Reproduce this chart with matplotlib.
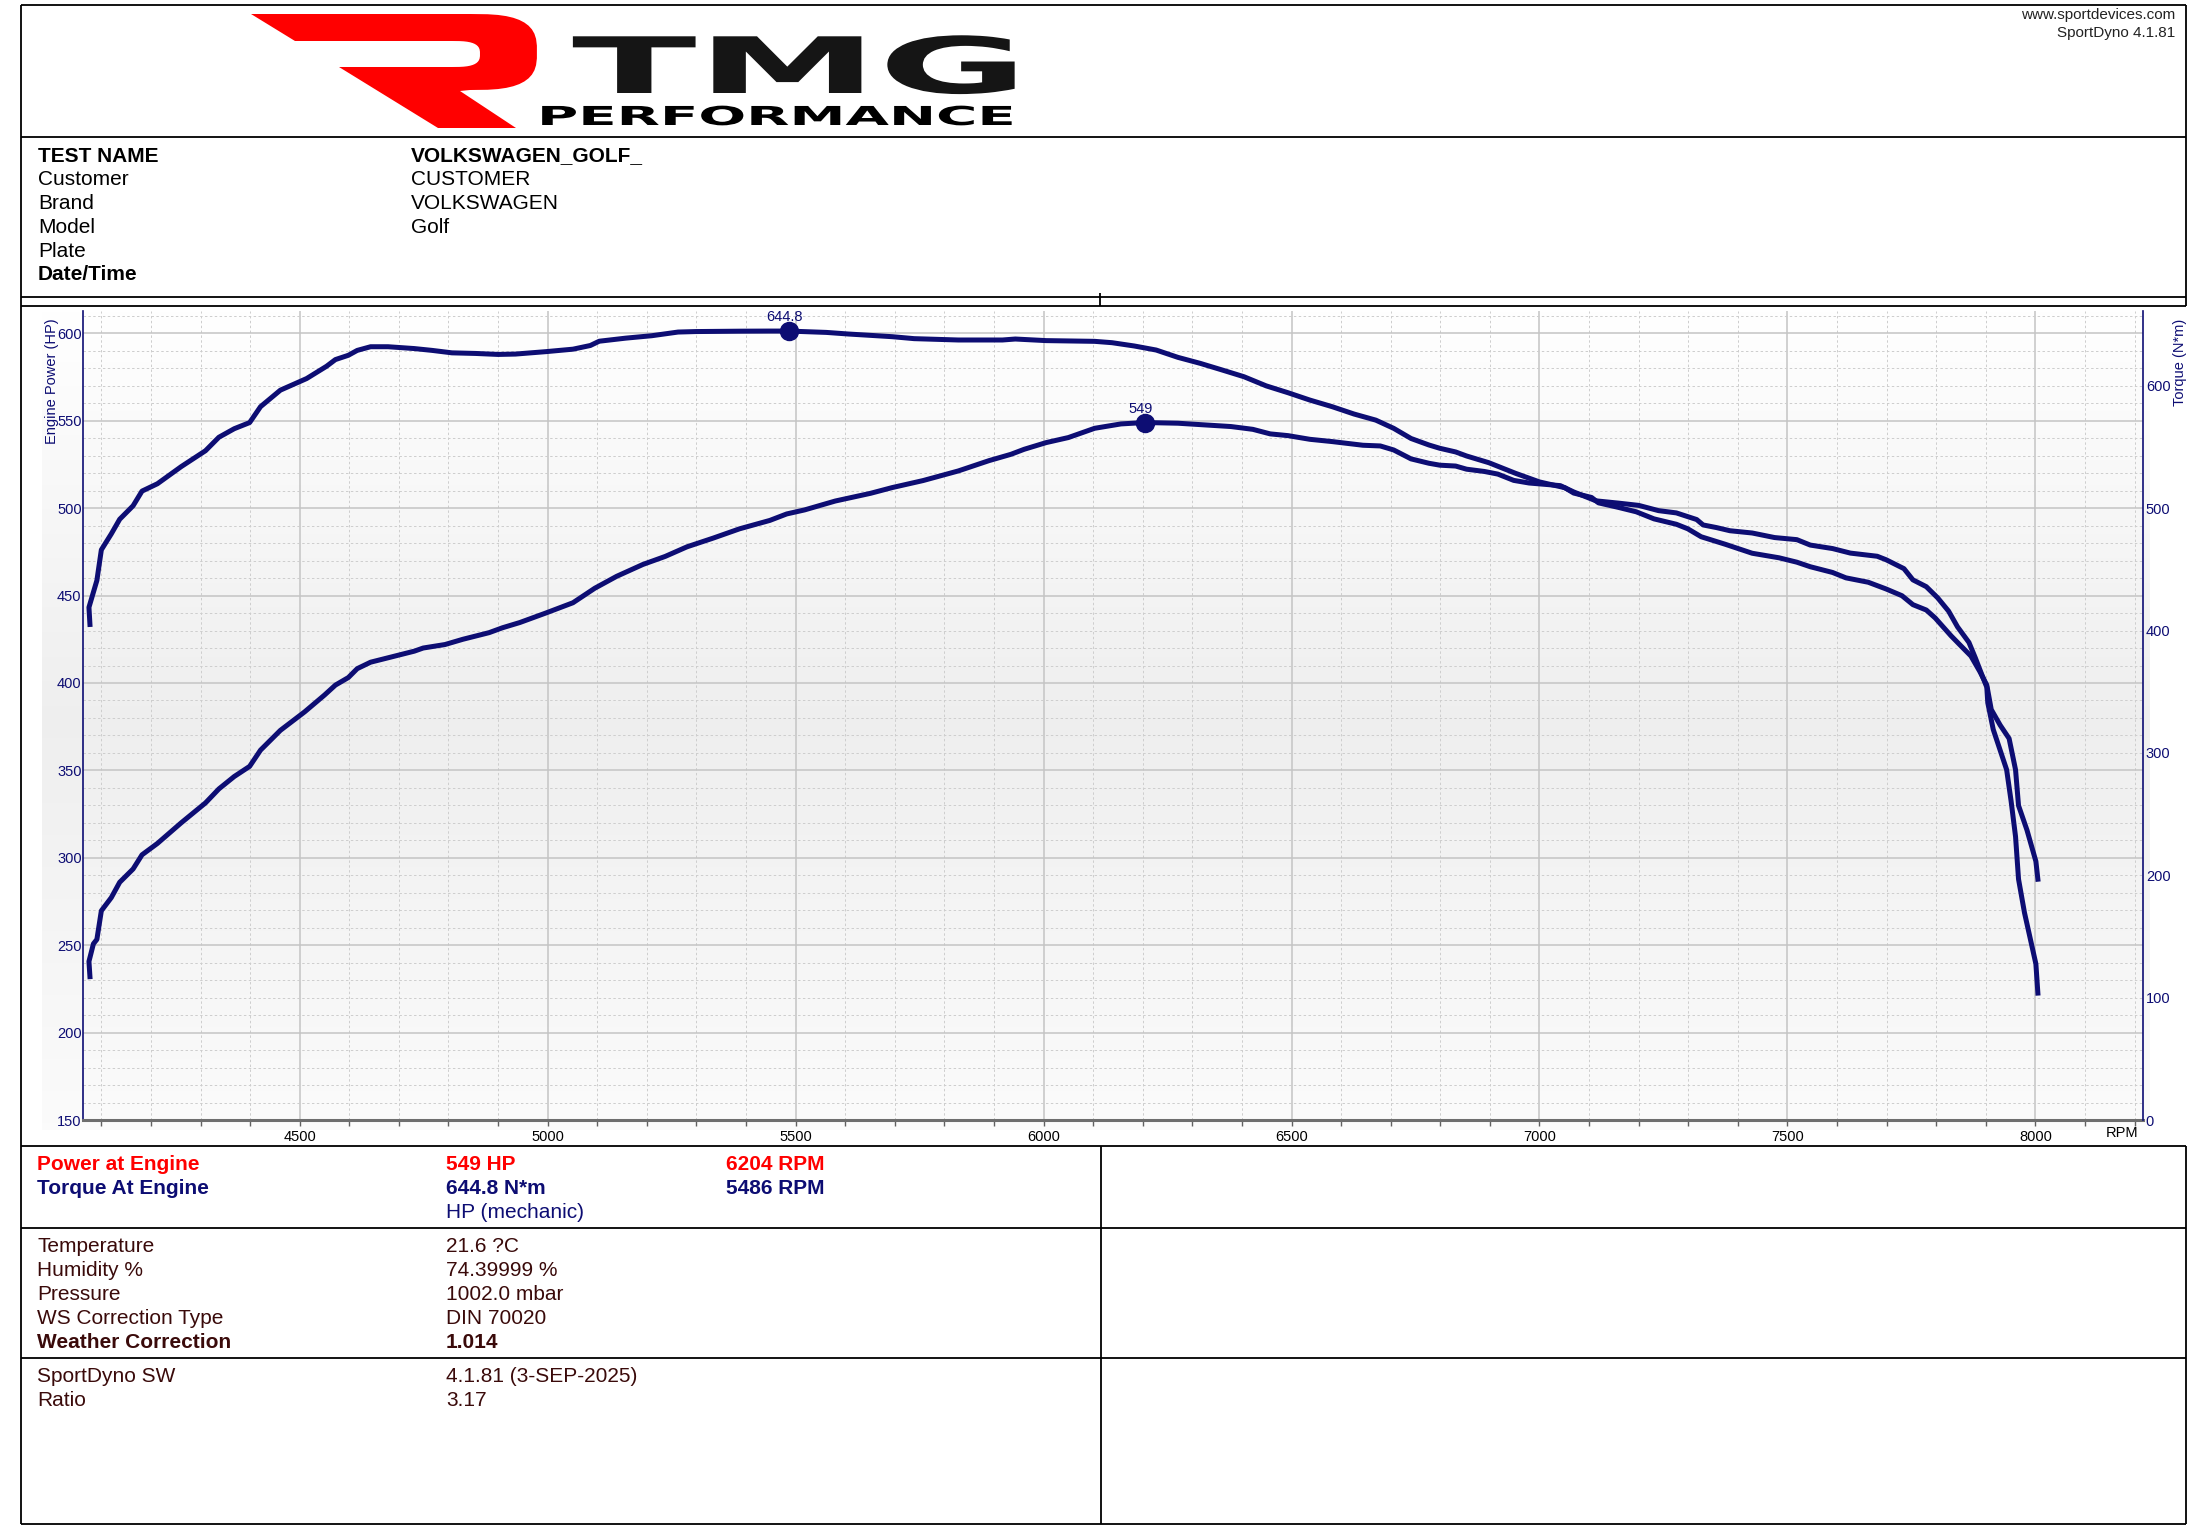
import numpy as np
import matplotlib.pyplot as plt
from matplotlib.patches import Polygon
from matplotlib.patheffects import AbstractPathEffect
from matplotlib.transforms import Affine2D
from matplotlib.ticker import MultipleLocator

plt.rcParams['font.family'] = ['Liberation Sans', 'DejaVu Sans']

# --- curve data ---
torque_rpm = [4077, 4075, 4091, 4100, 4120, 4137, 4164, 4182, 4213, 4261, 4310, 4337, 4368, 4399,
              4421, 4461, 4514, 4554, 4572, 4598, 4616, 4643, 4678, 4731, 4767, 4807, 4855, 4900,
              4935, 4997, 5051, 5086, 5104, 5157, 5210, 5263, 5299, 5387, 5448, 5486, 5562, 5606,
              5695, 5739, 5828, 5917, 5943, 6005, 6103, 6138, 6183, 6227, 6271, 6316, 6360, 6404,
              6449, 6493, 6537, 6582, 6626, 6670, 6706, 6741, 6777, 6799, 6831, 6853, 6898, 6934,
              6952, 7000, 7051, 7069, 7105, 7119, 7159, 7195, 7231, 7276, 7299, 7326, 7375, 7429,
              7483, 7519, 7546, 7591, 7618, 7663, 7699, 7731, 7753, 7780, 7798, 7830, 7852, 7870,
              7888, 7902, 7911, 7929, 7947, 7960, 7966, 7983, 8001, 8005]
torque_nm = [405, 419, 441, 466, 479, 491, 502, 514, 520, 534, 547, 558, 565, 570,
             583, 596.5, 606, 616, 621.5, 625, 629, 632, 632, 630.5, 629, 627, 626.5, 625.7,
             626, 628, 630, 633, 636.5, 639, 641, 644, 644.4, 644.7, 644.8, 644.8, 643.7, 642.4,
             640.2, 638.6, 637.5, 637.5, 638.3, 637, 636.4, 635.3, 632.6, 629.3, 623.3, 618.4, 613, 607.5,
             600, 594.4, 588.4, 583, 577, 572, 565.3, 557, 551.7, 549, 546, 542.7, 537.2, 531.4,
             528.5, 521.5, 516.8, 512.4, 508.8, 504.4, 500.7, 497.1, 491.3, 486.9, 483.2, 476.7, 470.5, 463.2,
             459.5, 455.9, 452.2, 447.5, 443.1, 439.5, 434, 428.5, 421.2, 416.8, 410.3, 395.7, 386.6, 379.2,
             366.5, 355.5, 335.5, 322.7, 311.8, 286.2, 257, 237, 211.4, 196.8]

power_rpm = [4077, 4075, 4084, 4091, 4100, 4120, 4137, 4164, 4182, 4213, 4261, 4310, 4337, 4368,
             4399, 4421, 4461, 4510, 4550, 4572, 4598, 4616, 4643, 4678, 4731, 4749, 4793, 4829,
             4882, 4909, 4944, 4997, 5051, 5095, 5139, 5192, 5237, 5281, 5334, 5387, 5448, 5482,
             5518, 5580, 5651, 5695, 5757, 5828, 5890, 5934, 5961, 6005, 6050, 6103, 6156, 6204,
             6271, 6316, 6378, 6422, 6457, 6493, 6537, 6582, 6644, 6679, 6706, 6741, 6777, 6799,
             6831, 6853, 6889, 6916, 6948, 6979, 7000, 7042, 7069, 7114, 7159, 7200, 7240, 7276,
             7290, 7317, 7330, 7357, 7384, 7429, 7474, 7519, 7546, 7591, 7627, 7681, 7699, 7735,
             7753, 7780, 7803, 7825, 7843, 7866, 7879, 7893, 7902, 7904, 7915, 7942, 7951, 7960,
             7966, 7978, 8001, 8005]
power_hp = [232, 240.7, 250.8, 253.3, 269.7, 277.2, 286, 293.6, 301.7, 308.2, 320, 331.4, 339.4, 346.5,
            352.3, 361.6, 372.9, 383.5, 393.1, 398.8, 403.1, 408.2, 411.9, 414.4, 418.2, 420, 422, 425,
            428.8, 431.6, 434.6, 440.1, 445.9, 454.2, 461, 467.8, 472.4, 477.9, 482.9, 488.2, 493, 496.7,
            499, 504.1, 508.5, 511.8, 515.8, 521.3, 527.2, 530.8, 533.7, 537.5, 540.4, 545.7, 548.2, 549,
            548.6, 547.8, 546.7, 545.1, 542.5, 541.5, 539.4, 538.1, 536, 535.6, 533.3, 528.2, 525.7, 524.6,
            524.1, 522.3, 521, 519.5, 515.9, 514.4, 513.9, 512.9, 509.3, 504.2, 502.9, 501.6, 498.6, 497.3,
            496, 493.5, 490.4, 488.9, 487.1, 485.8, 483.2, 482, 478.9, 476.9, 474.3, 472.5, 470.5, 465.4,
            459, 455.1, 448.7, 441.1, 432.1, 423.2, 414.3, 404, 397.6, 388.7, 373.4, 350.4, 332.5, 312.1,
            287.8, 268.6, 239.3, 222.6]

peak_power = (6204, 549)
peak_torque = (5486, 644.8)

# header and result tables
info_labels = ['TEST NAME', 'Customer', 'Brand', 'Model', 'Plate', 'Date/Time']
info_values = ['VOLKSWAGEN_GOLF_', 'CUSTOMER', 'VOLKSWAGEN', 'Golf', '', '']
weather_labels = ['Temperature', 'Humidity %', 'Pressure', 'WS Correction Type', 'Weather Correction']
weather_values = ['21.6 ?C', '74.39999 %', '1002.0 mbar', 'DIN 70020', '1.014']
sw_labels = ['SportDyno SW', 'Ratio']
sw_values = ['4.1.81 (3-SEP-2025)', '3.17']

navy = '#0d0d73'
red = '#ff0000'
brown = '#3a0a0a'

W, H = 2196, 1539
fig = plt.figure(figsize=(W / 100, H / 100), dpi=100)

# page layer in pixel coordinates (y downwards)
page = fig.add_axes([0, 0, 1, 1])
page.axis('off')

# soft grey gradient behind the chart
rows = np.linspace(311, 1130, 300)
shade = np.interp(rows, [311, 720, 1130], [1.0, 0.935, 0.985])
grad = np.repeat(shade[:, None, None], 3, axis=2) * np.ones((1, 2, 3))
page.imshow(grad, extent=[42, 2150, 1130, 311], aspect='auto', interpolation='bilinear', zorder=0)
page.set_xlim(0, W)
page.set_ylim(H, 0)


def line(x0, y0, x1, y1):
    page.plot([x0, x1], [y0, y1], color='black', lw=1.3, solid_capstyle='butt')


for y in [5, 137, 297, 306, 1146, 1228, 1358, 1524]:
    line(21, y, 2186, y)
line(21, 5, 21, 1524)
line(2186, 5, 2186, 306)
line(2186, 1146, 2186, 1524)
line(1100, 293, 1100, 306)
line(1101, 1146, 1101, 1524)


class Stretch(AbstractPathEffect):
    """draw text glyphs stretched horizontally from the anchor"""
    def __init__(self, sx=1.0):
        super().__init__()
        self.sx = sx

    def draw_path(self, renderer, gc, tpath, affine, rgbFace=None):
        m = affine.get_matrix().copy()
        m[0, :2] *= self.sx
        renderer.draw_path(gc, tpath, Affine2D(m), rgbFace)


def bowl(cx, cy, rx, ry, t0, t1, n=3.0, k=24):
    # rounded (superellipse) arc for the R logo
    t = np.linspace(t0, t1, k)
    c, s = np.cos(t), np.sin(t)
    x = cx + rx * np.sign(c) * np.abs(c) ** (2 / n)
    y = cy - ry * np.sign(s) * np.abs(s) ** (2 / n)
    return list(zip(x, y))


# logo: red R and TMG PERFORMANCE
r_shape = ([(251, 14), (470, 14)]
           + bowl(470, 52, 67, 38, np.pi / 2, -np.pi / 2)
           + [(460, 91), (516, 128), (438, 128), (339, 67), (452, 67)]
           + bowl(452, 54, 28, 13, -np.pi / 2, np.pi / 2)
           + [(452, 41), (295, 41)])
page.add_patch(Polygon(r_shape, closed=True, facecolor=red, edgecolor='none'))

renderer = fig.canvas.get_renderer()
tmg = page.text(572, 93, 'TMG', fontsize=56, fontweight='bold', family='DejaVu Sans',
                color='#151515', ha='left', va='baseline')
tmg.set_path_effects([Stretch(456 / tmg.get_window_extent(renderer).width)])
perf = page.text(537, 125, 'PERFORMANCE', fontsize=18.8, fontweight='bold', family='DejaVu Sans',
                 color='black', ha='left', va='baseline')
perf.set_path_effects([Stretch(479 / perf.get_window_extent(renderer).width)])

page.text(2175, 18.5, 'www.sportdevices.com', fontsize=11, color='#222222', ha='right', va='baseline')
page.text(2175, 37.5, 'SportDyno 4.1.81', fontsize=11, color='#222222', ha='right', va='baseline')

# test info block
for i, (lab, val) in enumerate(zip(info_labels, info_values)):
    y = 155 + 23.8 * i + 6.5
    bold = 'bold' if i in (0, 5) else 'normal'
    page.text(38, y, lab, fontsize=15, fontweight=bold, color='black', va='baseline')
    page.text(411, y, val, fontsize=15, fontweight='bold' if i == 0 else 'normal',
              color='black', va='baseline')

# results block
page.text(37, 1170.5, 'Power at Engine', fontsize=15, fontweight='bold', color=red, va='baseline')
page.text(446, 1170.5, '%d HP' % peak_power[1], fontsize=15, fontweight='bold', color=red, va='baseline')
page.text(726, 1170.5, '%d RPM' % peak_power[0], fontsize=15, fontweight='bold', color=red, va='baseline')
page.text(37, 1194.5, 'Torque At Engine', fontsize=15, fontweight='bold', color=navy, va='baseline')
page.text(446, 1194.5, '%.1f N*m' % peak_torque[1], fontsize=15, fontweight='bold', color=navy, va='baseline')
page.text(726, 1194.5, '%d RPM' % peak_torque[0], fontsize=15, fontweight='bold', color=navy, va='baseline')
page.text(446, 1218.5, 'HP (mechanic)', fontsize=15, color=navy, va='baseline')

for i, (lab, val) in enumerate(zip(weather_labels, weather_values)):
    y = 1245 + 24 * i + 7.5
    bold = 'bold' if i == 4 else 'normal'
    page.text(37, y, lab, fontsize=15, fontweight=bold, color=brown, va='baseline')
    page.text(446, y, val, fontsize=15, fontweight=bold, color=brown, va='baseline')

for i, (lab, val) in enumerate(zip(sw_labels, sw_values)):
    y = 1375 + 24 * i + 7.5
    page.text(37, y, lab, fontsize=15, color=brown, va='baseline')
    page.text(446, y, val, fontsize=15, color=brown, va='baseline')

page.text(2122, 1133, 'RPM', fontsize=10.5, color='black', ha='center', va='center')

# --- dyno chart ---
ax = fig.add_axes([83 / W, 1 - 1120 / H, (2143 - 83) / W, (1120 - 311) / H])
ax.set_facecolor('none')
ax.set_xlim(4063, 8217)
ax.set_ylim(150, 612.8)
ax.xaxis.set_major_locator(MultipleLocator(500))
ax.xaxis.set_minor_locator(MultipleLocator(100))
ax.yaxis.set_major_locator(MultipleLocator(50))
ax.yaxis.set_minor_locator(MultipleLocator(10))
ax.set_axisbelow(True)
ax.grid(which='major', color='#c4c4c4', lw=1.1, ls='-')
ax.grid(which='minor', color='#cdcdcd', lw=0.7, ls=(0, (2.5, 2.5)))

ax.tick_params(axis='x', which='both', direction='out', length=4, width=1, color='#606060',
               labelsize=10.5, labelcolor='black', pad=3)
ax.tick_params(axis='y', which='both', length=0, labelsize=10.5, labelcolor=navy, pad=1)
ax.spines['top'].set_visible(False)
ax.spines['right'].set_visible(False)
ax.spines['bottom'].set(color='#6e6e6e', lw=2.2)
ax.spines['left'].set(color=navy, lw=1.2)

ax.set_ylabel('Engine Power (HP)', fontsize=10.5, color=navy, ha='center', va='center')
ax.yaxis.set_label_coords((52 - 83) / 2060, (1120 - 381) / 809)

ax.plot(power_rpm, power_hp, color=navy, lw=3.6, solid_joinstyle='round', zorder=3)
ax.plot(*peak_power, 'o', ms=13, color=navy, zorder=4)
ax.annotate('%d' % peak_power[1], xy=peak_power, xytext=(-4, 14), textcoords='offset pixels',
            ha='center', va='center', fontsize=10.5, color=navy)

ax2 = ax.twinx()
ax2.set_ylim(0, 661.2)
ax2.yaxis.set_major_locator(MultipleLocator(100))
ax2.tick_params(axis='y', length=0, labelsize=10.5, labelcolor=navy, pad=2)
for s in ['top', 'left', 'bottom']:
    ax2.spines[s].set_visible(False)
ax2.spines['right'].set(color=navy, lw=1.2)
ax2.set_ylabel('Torque (N*m)', fontsize=10.5, color=navy, ha='center', va='center')
ax2.yaxis.set_label_coords((2180 - 83) / 2060, (1120 - 362) / 809)

ax2.plot(torque_rpm, torque_nm, color=navy, lw=3.6, solid_joinstyle='round', zorder=3)
ax2.plot(*peak_torque, 'o', ms=13, color=navy, zorder=4)
ax2.annotate('%.1f' % peak_torque[1], xy=peak_torque, xytext=(-4, 14), textcoords='offset pixels',
             ha='center', va='center', fontsize=10.5, color=navy)

fig.savefig('out.png', dpi=100)
